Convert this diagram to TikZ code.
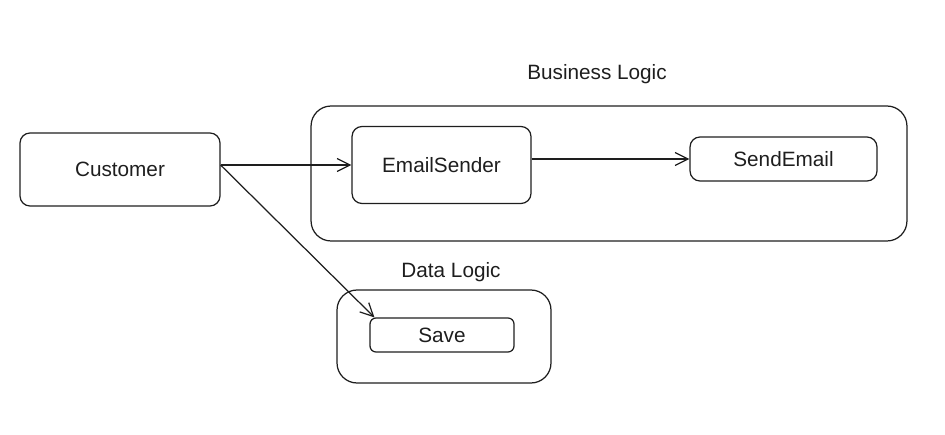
\documentclass[tikz,border=0pt]{standalone}
\usepackage{fontspec}
\setmainfont{Liberation Sans}
\usetikzlibrary{arrows.meta,positioning}

\definecolor{ink}{HTML}{1E1E1E}
\tikzset{
    box/.style={draw=ink, line width=0.7pt, rounded corners=0.2cm, inner sep=0pt,
                font=\fontsize{11.8}{14}\selectfont, text=ink},
    group/.style={draw=ink, line width=0.7pt, rounded corners=0.4cm, inner sep=0pt},
    grouplabel/.style={font=\fontsize{11.8}{14}\selectfont, text=ink},
    flow/.style={draw=ink, line width=0.7pt, -{Straight Barb[length=0.26cm,width=0.26cm]}}
}

\begin{document}
\begin{tikzpicture}[x=0.02cm, y=-0.02cm]
                    \useasboundingbox (0, 0) rectangle (945, 435);

                    \node[group, minimum width=11.92cm, minimum height=2.7cm] (bl) at (609, 173.5) {};
                    \node[group, minimum width=4.28cm, minimum height=1.86cm] (dl) at (444, 336.5) {};
                    \node[grouplabel] (bltext) at (597, 74) {Business Logic};
                    \node[grouplabel] (dltext) at (451, 272) {Data Logic};

                    \node[box, minimum width=4cm, minimum height=1.46cm] (cust) at (120, 169.5) {Customer};
                    \node[box, minimum width=3.58cm, minimum height=1.54cm] (sender) at (441.5, 165) {EmailSender};
                    \node[box, minimum width=3.74cm, minimum height=0.88cm] (send) at (783.5, 159) {SendEmail};
                    \node[box, rounded corners=0.12cm, minimum width=2.88cm, minimum height=0.68cm] (save) at (442, 335) {Save};

                    \coordinate (out) at (sender.west -| cust.east);
                    \draw
                    (out) edge[flow] (sender.west)
                    (out) edge[flow] ([xshift=0.1cm]save.north west)
                    (sender.east |- send.west) edge[flow] (send.west);
                \end{tikzpicture}
\end{document}
